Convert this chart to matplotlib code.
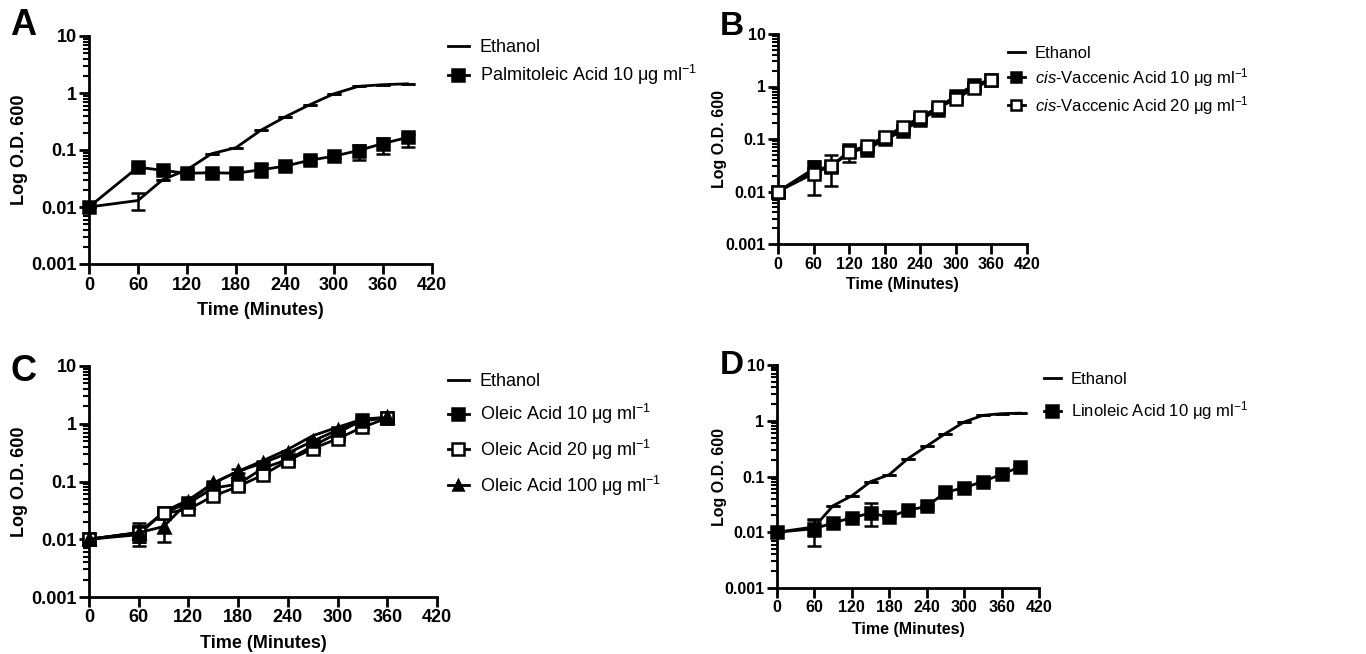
import matplotlib
matplotlib.use("Agg")
import matplotlib.pyplot as plt
import numpy as np
from matplotlib.ticker import FixedLocator, FixedFormatter, LogLocator, NullFormatter

plt.rcParams['font.family'] = ['Liberation Sans', 'DejaVu Sans']
plt.rcParams['mathtext.fontset'] = 'custom'
plt.rcParams['mathtext.rm'] = 'Liberation Sans'
plt.rcParams['mathtext.it'] = 'Liberation Sans:italic'
plt.rcParams['mathtext.bf'] = 'Liberation Sans:bold'
plt.rcParams['mathtext.default'] = 'regular'

# ---- data ----
# panel A
tA = [0, 60, 90, 120, 150, 180, 210, 240, 270, 300, 330, 360, 390]
ethA = [0.01, 0.013, 0.030, 0.045, 0.086, 0.11, 0.22, 0.38, 0.62, 0.97, 1.31, 1.40, 1.45]
ethA_lo = [0, 0.0043, 0, 0, 0, 0, 0, 0, 0, 0, 0, 0, 0]
ethA_hi = [0, 0.0045, 0, 0, 0, 0, 0, 0, 0, 0, 0, 0, 0]
palm = [0.01, 0.050, 0.044, 0.039, 0.040, 0.039, 0.045, 0.052, 0.066, 0.078, 0.098, 0.13, 0.166]
palm_lo = [0, 0.004, 0.003, 0.003, 0.003, 0.004, 0.012, 0.007, 0.008, 0.007, 0.031, 0.045, 0.051]
palm_hi = [0, 0.004, 0.003, 0.003, 0.003, 0.004, 0.014, 0.007, 0.008, 0.007, 0.022, 0.03, 0.024]

# panel B
tB = [0, 60, 90, 120, 150, 180, 210, 240, 270, 300, 330, 360]
ethB = [0.01, 0.025, 0.030, 0.055, 0.070, 0.105, 0.155, 0.25, 0.40, 0.66, 1.05, 1.35]
vac10 = [0.01, 0.027, 0.029, 0.061, 0.063, 0.098, 0.14, 0.23, 0.36, 0.65, 1.08, 1.33]
vac10_lo = [0, 0.008, 0.004, 0.024, 0.006, 0.01, 0.015, 0.02, 0.03, 0.05, 0.08, 0.1]
vac10_hi = [0, 0.011, 0.004, 0.011, 0.006, 0.01, 0.015, 0.02, 0.03, 0.05, 0.08, 0.1]
vac20 = [0.01, 0.022, 0.031, 0.057, 0.075, 0.11, 0.17, 0.26, 0.40, 0.57, 0.93, 1.33]
vac20_lo = [0, 0.0135, 0.018, 0.01, 0.006, 0.01, 0.015, 0.02, 0.03, 0.05, 0.08, 0.1]
vac20_hi = [0, 0.016, 0.019, 0.01, 0.006, 0.01, 0.015, 0.02, 0.03, 0.05, 0.08, 0.1]

# panel C
tC = [0, 60, 90, 120, 150, 180, 210, 240, 270, 300, 330, 360]
ethC = [0.01, 0.012, 0.030, 0.048, 0.094, 0.15, 0.23, 0.36, 0.62, 0.87, 1.20, 1.30]
ole10 = [0.01, 0.013, 0.029, 0.042, 0.077, 0.090, 0.17, 0.24, 0.41, 0.69, 1.17, 1.25]
ole10_lo = [0, 0.0055, 0.003, 0.004, 0.008, 0.012, 0.02, 0.03, 0.04, 0.06, 0.1, 0.1]
ole10_hi = [0, 0.006, 0.003, 0.004, 0.008, 0.012, 0.02, 0.03, 0.04, 0.06, 0.1, 0.1]
ole20 = [0.01, 0.013, 0.028, 0.033, 0.056, 0.082, 0.13, 0.23, 0.37, 0.55, 0.87, 1.25]
ole20_lo = [0, 0.004, 0.003, 0.003, 0.005, 0.008, 0.012, 0.02, 0.03, 0.05, 0.07, 0.1]
ole20_hi = [0, 0.004, 0.003, 0.003, 0.005, 0.008, 0.012, 0.02, 0.03, 0.05, 0.07, 0.1]
ole100 = [0.01, 0.013, 0.0166, 0.045, 0.094, 0.15, 0.21, 0.31, 0.50, 0.78, 1.10, 1.30]
ole100_lo = [0, 0.004, 0.0078, 0.004, 0.008, 0.012, 0.02, 0.03, 0.04, 0.06, 0.1, 0.1]
ole100_hi = [0, 0.004, 0.013, 0.004, 0.008, 0.012, 0.02, 0.03, 0.04, 0.06, 0.1, 0.1]

# panel D
tD = [0, 60, 90, 120, 150, 180, 210, 240, 270, 300, 330, 360, 390]
ethD = [0.01, 0.0125, 0.030, 0.045, 0.081, 0.108, 0.21, 0.35, 0.59, 0.95, 1.25, 1.34, 1.37]
ethD_lo = [0, 0.004, 0, 0, 0, 0, 0, 0, 0, 0, 0, 0, 0]
ethD_hi = [0, 0.0045, 0, 0, 0, 0, 0, 0, 0, 0, 0, 0, 0]
lino = [0.01, 0.0116, 0.0147, 0.0183, 0.022, 0.0188, 0.0249, 0.029, 0.052, 0.063, 0.081, 0.11, 0.149]
lino_lo = [0, 0.006, 0.001, 0.001, 0.0092, 0.001, 0.002, 0.002, 0.004, 0.005, 0.006, 0.008, 0.01]
lino_hi = [0, 0.0052, 0.001, 0.001, 0.0116, 0.001, 0.002, 0.002, 0.004, 0.005, 0.006, 0.008, 0.01]

xticks = [0, 60, 120, 180, 240, 300, 360, 420]
yticks = [0.001, 0.01, 0.1, 1, 10]
ylabels = ['0.001', '0.01', '0.1', '1', '10']

W, H = 1366, 654
fig = plt.figure(figsize=(W / 100, H / 100), dpi=100)


def make_ax(l, r, t, b, fs, xpad, ypad):
    ax = fig.add_axes([l / W, 1 - b / H, (r - l) / W, (b - t) / H])
    ax.set_yscale('log')
    ax.set_ylim(0.001, 10)
    ax.set_xlim(0, 420)
    ax.spines['top'].set_visible(False)
    ax.spines['right'].set_visible(False)
    for s in ['left', 'bottom']:
        ax.spines[s].set_linewidth(2)
    ax.xaxis.set_major_locator(FixedLocator(xticks))
    ax.yaxis.set_major_locator(FixedLocator(yticks))
    ax.yaxis.set_major_formatter(FixedFormatter(ylabels))
    ax.yaxis.set_minor_locator(LogLocator(base=10, subs=np.arange(2, 10)))
    ax.yaxis.set_minor_formatter(NullFormatter())
    ax.tick_params(axis='both', which='major', width=2, length=7, pad=2, labelsize=fs)
    ax.tick_params(axis='y', which='minor', width=1.5, length=4)
    for lab in ax.get_xticklabels() + ax.get_yticklabels():
        lab.set_fontweight('bold')
    ax.set_xlabel('Time (Minutes)', fontsize=fs, fontweight='bold', labelpad=xpad)
    ax.set_ylabel('Log O.D. 600', fontsize=fs, fontweight='bold', labelpad=ypad)
    return ax


def ethanol(ax, t, y, lo=None, hi=None):
    if lo is not None:
        ax.errorbar(t, y, yerr=[lo, hi], fmt='none', ecolor='black', elinewidth=1.8,
                    capsize=5, capthick=1.8, clip_on=False)
    ax.plot(t, y, color='black', lw=2, label='Ethanol', clip_on=False)


def series(ax, t, y, lo, hi, marker, fill, label, ms=9):
    ax.errorbar(t, y, yerr=[lo, hi], fmt='none', ecolor='black', elinewidth=1.8,
                capsize=5, capthick=1.8, clip_on=False, zorder=3)
    ax.plot(t, y, color='black', lw=2, marker=marker, ms=ms,
            mfc='black' if fill else 'white', mec='black', mew=1.8,
            label=label, clip_on=False, zorder=4)


def legend(ax, x, y, fs, spacing, hl):
    ax.legend(loc='upper left', bbox_to_anchor=(x / W, 1 - y / H), bbox_transform=fig.transFigure,
              frameon=False, handlelength=hl, handletextpad=0.6, labelspacing=spacing,
              fontsize=fs, borderaxespad=0, borderpad=0, markerscale=0.9)


ug = r' 10 μg ml$^{-1}$'

# A
ax = make_ax(89, 432, 36, 264, 13, 6, 2)
ethanol(ax, tA, ethA, ethA_lo, ethA_hi)
series(ax, tA, palm, palm_lo, palm_hi, 's', True, 'Palmitoleic Acid' + ug)
legend(ax, 448, 39, 13, 0.4, 1.15)

# B
ax = make_ax(778, 1027, 34, 244, 11.5, 4, -1)
ethanol(ax, tB, ethB)
series(ax, tB, vac10, vac10_lo, vac10_hi, 's', True, r'$\it{cis}$-Vaccenic Acid' + ug, ms=8.5)
series(ax, tB, vac20, vac20_lo, vac20_hi, 's', False, r'$\it{cis}$-Vaccenic Acid 20 μg ml$^{-1}$', ms=8.5)
legend(ax, 1008, 46, 12, 0.3, 1.0)

# C
ax = make_ax(89, 437, 366, 597, 13, 6, 2)
ethanol(ax, tC, ethC)
series(ax, tC, ole10, ole10_lo, ole10_hi, 's', True, 'Oleic Acid' + ug)
series(ax, tC, ole20, ole20_lo, ole20_hi, 's', False, 'Oleic Acid 20 μg ml$^{-1}$')
series(ax, tC, ole100, ole100_lo, ole100_hi, '^', True, 'Oleic Acid 100 μg ml$^{-1}$', ms=8)
legend(ax, 448, 373, 13, 0.65, 1.15)

# D
ax = make_ax(777, 1039, 365, 588, 11.5, 5, -2)
ethanol(ax, tD, ethD, ethD_lo, ethD_hi)
series(ax, tD, lino, lino_lo, lino_hi, 's', True, 'Linoleic Acid' + ug)
legend(ax, 1044, 372, 12, 0.75, 1.0)

# panel letters
for letter, x, y, fs in [('A', 10, 8, 26), ('B', 720, 11, 24), ('C', 10, 354, 26), ('D', 720, 350, 24)]:
    fig.text(x / W, 1 - y / H, letter, fontsize=fs, fontweight='bold', va='top', ha='left')

fig.savefig('out.png', dpi=100)
